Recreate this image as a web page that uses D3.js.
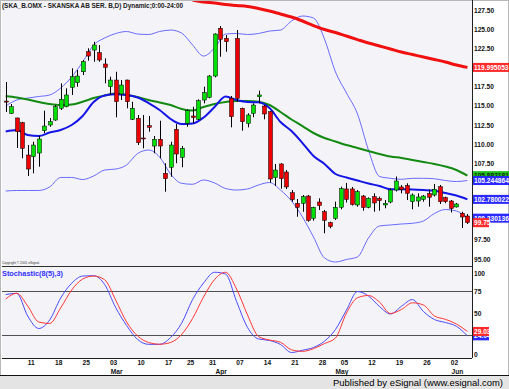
<!DOCTYPE html>
<html>
<head>
<meta charset="utf-8">
<script src="https://cdn.jsdelivr.net/npm/d3@7"></script>
<style>
  body { margin: 0; background: #fff; }
  svg text { font-family: "Liberation Sans", Arial, sans-serif; }
</style>
</head>
<body>
<svg id="chart"></svg>
<script>
// daily candles, one per trading day (index 0..84)
const opens  = [115.60,114.01,113.40,112.78,108.57,108.35,108.83,111.74,112.48,113.13,114.66,114.87,117.40,118.00,119.43,122.04,122.26,121.91,120.44,117.48,118.35,116.53,118.35,113.23,113.36,110.79,112.39,109.74,110.62,106.18,106.97,111.92,108.27,112.70,113.66,113.23,115.74,116.10,118.87,125.10,123.79,115.97,123.79,114.66,112.70,114.01,116.17,114.96,114.22,105.64,107.40,106.35,103.65,102.27,102.27,103.22,100.31,102.44,101.17,99.74,100.31,101.75,104.14,104.14,102.05,103.22,101.75,103.13,102.92,102.05,102.44,104.00,104.40,104.59,102.48,102.57,102.79,103.55,103.35,104.43,103.03,102.57,101.79,100.97,100.61];
const highs  = [118.09,115.22,113.45,112.90,109.87,110.30,111.05,114.35,113.40,115.09,117.92,117.27,119.88,119.66,120.96,122.49,123.35,122.92,121.18,118.78,119.43,118.35,118.40,115.52,113.79,113.79,113.66,111.05,113.04,107.49,110.30,112.61,109.74,114.53,114.87,115.83,117.48,119.00,124.44,125.40,124.22,116.27,124.87,114.75,114.01,115.31,116.96,115.09,114.30,107.40,107.49,106.61,104.00,102.83,103.35,103.35,101.83,102.92,101.40,99.87,102.48,104.43,104.92,104.40,104.00,103.35,103.05,103.57,103.13,102.70,104.23,105.77,104.66,104.88,103.55,103.57,103.35,104.07,104.79,104.66,103.13,102.70,102.31,101.17,100.87];
const lows   = [114.18,113.92,109.48,108.14,105.83,106.18,107.04,111.40,112.26,113.04,114.44,114.79,116.40,117.48,119.00,120.87,120.74,120.74,117.92,116.40,113.49,115.74,114.66,113.13,109.87,109.44,111.61,108.79,108.14,103.78,105.74,107.49,106.97,112.26,112.70,113.13,115.31,115.97,118.70,121.39,122.04,112.18,115.52,111.74,112.18,113.49,115.31,113.23,104.96,104.53,104.17,104.14,102.48,100.52,101.17,99.87,100.00,101.40,98.36,99.01,100.09,101.49,102.37,101.98,101.83,101.30,101.62,101.17,101.30,101.62,102.27,103.81,103.57,102.70,101.49,101.83,102.48,101.83,103.16,102.18,102.27,101.07,101.72,99.05,99.57];
const closes = [115.52,114.87,111.61,109.44,106.74,109.87,110.66,112.35,112.91,114.87,115.83,116.40,118.78,118.87,120.74,121.48,122.92,120.96,120.01,118.35,115.52,117.70,115.52,114.66,110.17,110.71,112.18,110.62,109.74,105.48,109.87,108.70,109.44,114.35,113.46,115.65,116.70,118.87,124.35,123.66,123.35,113.57,115.97,112.91,113.79,115.09,116.40,113.92,105.44,106.61,105.48,104.40,102.74,101.75,103.13,100.03,101.75,101.98,100.05,99.24,101.75,104.17,102.77,102.11,103.78,101.72,102.92,102.31,102.61,102.27,104.00,105.18,104.07,103.57,103.35,103.09,103.22,103.05,104.10,102.48,102.48,101.59,102.18,100.48,99.74];

// indicator lines, read every 2nd trading day (index 0,2,...,84)
const upperBand = [114.96,115.74,116.00,116.20,116.40,117.31,118.74,120.70,122.92,123.83,124.42,124.68,124.35,124.29,124.68,124.87,124.48,122.92,121.48,122.53,124.35,124.42,124.29,124.42,124.74,124.87,126.05,126.70,126.44,123.70,119.40,116.66,113.92,109.22,105.77,105.53,105.40,105.53,105.53,105.47,105.24,105.11,105.24];
const lowerBand = [103.87,103.94,103.94,103.94,104.40,105.64,105.64,105.37,105.83,106.61,106.74,107.27,108.77,109.22,108.31,106.09,104.88,104.75,105.31,104.92,104.20,104.00,104.14,104.66,104.98,104.00,102.57,100.48,97.87,95.14,94.61,94.94,95.27,97.74,99.31,99.44,99.57,99.66,99.96,100.94,101.46,101.27,100.33];
const blueMA    = [111.63,111.83,111.18,111.05,111.50,111.83,112.48,113.66,115.48,116.33,116.49,116.40,116.07,115.35,114.44,113.27,112.61,112.68,113.46,114.83,116.20,115.74,115.48,115.44,114.70,112.87,111.70,110.13,108.44,107.40,106.09,105.64,105.24,104.85,104.53,104.10,104.10,104.07,104.00,103.91,103.61,103.29,102.78];
const greenMA   = [116.27,116.07,115.81,115.48,115.22,115.09,115.16,115.52,116.00,116.33,116.59,116.40,116.13,115.74,115.42,115.09,114.57,114.37,114.83,115.22,115.48,115.61,115.61,115.52,115.09,114.18,113.20,112.35,111.44,110.79,110.33,109.87,109.48,109.09,108.70,108.37,108.18,107.92,107.66,107.40,107.07,106.61,105.88];
// red long average only visible from index 34 on (every 2nd day)
const redMA     = [128.79,128.53,128.40,128.20,128.07,127.94,127.68,127.35,126.96,126.57,126.05,125.46,124.94,124.55,124.09,123.63,123.18,122.79,122.40,122.00,121.68,121.35,121.03,120.70,120.31,119.995];

const stochK = [71.0,72.4,46.6,32.4,42.0,67.0,83.8,92.0,92.4,82.4,56.3,35.8,19.9,14.4,14.4,22.2,38.3,65.3,84.1,96.3,94.3,63.1,33.5,20.5,18.8,14.2,5.1,7.7,10.8,18.0,31.3,53.4,74.4,69.3,57.4,48.9,57.6,65.3,51.7,42.6,39.2,34.9,24.04];
const stochD = [65.9,72.4,58.0,39.8,38.1,55.7,76.1,88.6,92.0,87.8,64.8,39.8,23.9,16.5,14.5,16.5,25.6,43.8,68.2,88.1,96.3,77.3,47.7,23.3,19.3,16.7,8.2,6.4,9.5,15.3,21.6,50.0,67.3,69.9,62.5,49.4,54.0,61.6,59.1,46.6,42.8,37.5,29.03];

// tick labels that stay visible (the others sit under the value tags)
const priceTicks = [95,97.5,107.5,110,112.5,115,117.5,122.5,125,127.5];
const stochTicks = [0,50,75,100];
const stochLevels = [75,25];
const dayTickIdx = [5,10,15,20,25,30,34,38,43,48,53,58,62,67,72,77,82];
const dayTickLabels = ["11","18","25","03","10","17","25","31","07","14","21","28","05","12","19","26","02"];
const monthIdx = [20,39,61,82];
const monthLabels = ["Mar","Apr","May","Jun"];

const width = 509, height = 389;
const left = 2, right = 472;
const priceTop = 1, priceBottom = 266;
const stochBottom = 358;

const svg = d3.select("#chart").attr("width", width).attr("height", height);

svg.append("rect").attr("width", width).attr("height", height).attr("fill", "#fff");
svg.append("rect")
    .attr("x", left).attr("y", 0)
    .attr("width", right - left).attr("height", stochBottom)
    .attr("fill", "#f4f3f7");
// outer frame
svg.append("rect")
    .attr("x", 0.5).attr("y", 0.5)
    .attr("width", width - 1).attr("height", 375)
    .attr("fill", "none").attr("stroke", "#b8b8b8");

const x = d3.scaleLinear().domain([0, opens.length - 1]).range([5.7, 467.4]);
const y = d3.scaleLinear().domain([94.09, 128.66]).range([priceBottom, priceTop]);
const ys = d3.scaleLinear().domain([0, 100]).range([357, 269]);

svg.append("clipPath").attr("id", "clipPrice")
  .append("rect").attr("x", left).attr("y", priceTop)
    .attr("width", right - left).attr("height", priceBottom - priceTop);

const everyOther = d3.range(0, opens.length, 2);
const redIdx = d3.range(34, opens.length, 2);

const priceLine = d3.line()
    .x(d => x(d[0]))
    .y(d => y(d[1]))
    .curve(d3.curveMonotoneX);

const plot = svg.append("g").attr("clip-path", "url(#clipPrice)");

// bollinger bands
[upperBand, lowerBand].forEach(band => {
  plot.append("path")
      .attr("d", priceLine(everyOther.map((i, k) => [i, band[k]])))
      .attr("fill", "none")
      .attr("stroke", "#6a6aff")
      .attr("stroke-width", 1);
});

plot.append("path")
    .attr("d", priceLine(everyOther.map((i, k) => [i, greenMA[k]])))
    .attr("fill", "none").attr("stroke", "#128a12").attr("stroke-width", 2);

plot.append("path")
    .attr("d", priceLine(everyOther.map((i, k) => [i, blueMA[k]])))
    .attr("fill", "none").attr("stroke", "#1414e6").attr("stroke-width", 2);

plot.append("path")
    .attr("d", priceLine(redIdx.map((i, k) => [i, redMA[k]])))
    .attr("fill", "none").attr("stroke", "#f01010").attr("stroke-width", 3);

// candles
const candles = opens.map((o, i) => ({i, o, h: highs[i], l: lows[i], c: closes[i]}));
const cg = plot.append("g")
  .selectAll("g")
  .data(candles)
  .join("g");

cg.append("line")
    .attr("x1", d => Math.round(x(d.i)) + 0.5)
    .attr("x2", d => Math.round(x(d.i)) + 0.5)
    .attr("y1", d => y(d.h))
    .attr("y2", d => y(d.l))
    .attr("stroke", "#000");

cg.append("rect")
    .attr("x", d => Math.round(x(d.i)) - 1.5)
    .attr("width", 4)
    .attr("y", d => y(Math.max(d.o, d.c)))
    .attr("height", d => Math.max(1, Math.abs(y(d.o) - y(d.c))))
    .attr("fill", d => d.c >= d.o ? "#00e000" : "#ee0000")
    .attr("stroke", "#000")
    .attr("stroke-width", 0.5);

// stochastic panel
stochLevels.forEach(v => {
  svg.append("line")
      .attr("x1", left).attr("x2", right)
      .attr("y1", Math.round(ys(v)) + 0.5).attr("y2", Math.round(ys(v)) + 0.5)
      .attr("stroke", "#505050");
});

const stochLine = d3.line()
    .x(d => x(d[0]))
    .y(d => ys(d[1]))
    .curve(d3.curveMonotoneX);

svg.append("path")
    .attr("d", stochLine(everyOther.map((i, k) => [i, stochK[k]])))
    .attr("fill", "none").attr("stroke", "#4a4aff").attr("stroke-width", 1);
svg.append("path")
    .attr("d", stochLine(everyOther.map((i, k) => [i, stochD[k]])))
    .attr("fill", "none").attr("stroke", "#ff3535").attr("stroke-width", 1);

// separators and axes lines
svg.append("line").attr("x1", left).attr("x2", right)
    .attr("y1", priceBottom + 0.5).attr("y2", priceBottom + 0.5).attr("stroke", "#303030");
svg.append("line").attr("x1", left).attr("x2", right)
    .attr("y1", stochBottom + 0.5).attr("y2", stochBottom + 0.5).attr("stroke", "#202020");
svg.append("line").attr("x1", right + 0.5).attr("x2", right + 0.5)
    .attr("y1", 0).attr("y2", stochBottom).attr("stroke", "#202020");

// right price axis
const priceAxis = svg.append("g")
    .attr("transform", `translate(${right},0)`)
    .call(d3.axisRight(y).tickValues(priceTicks).tickFormat(d3.format(".2f")).tickSize(0).tickPadding(2));
priceAxis.select(".domain").remove();
priceAxis.selectAll("text")
    .attr("font-size", 6.6).attr("font-weight", "bold").attr("fill", "#111")
    .attr("font-family", "Liberation Sans, Arial, sans-serif");

const stochAxis = svg.append("g")
    .attr("transform", `translate(${right},0)`)
    .call(d3.axisRight(ys).tickValues(stochTicks).tickFormat(d3.format("d")).tickSize(0).tickPadding(2));
stochAxis.select(".domain").remove();
stochAxis.selectAll("text")
    .attr("font-size", 6.6).attr("font-weight", "bold").attr("fill", "#111")
    .attr("font-family", "Liberation Sans, Arial, sans-serif")
    .attr("dy", d => d === 100 ? "1.0em" : d === 0 ? "-0.05em" : "0.32em");

// bottom date axis
const dateAxis = svg.append("g")
    .attr("transform", `translate(-2.5,${stochBottom})`)
    .call(d3.axisBottom(x).tickValues(dayTickIdx).tickFormat((d, k) => dayTickLabels[k]).tickSize(0).tickPadding(2));
dateAxis.select(".domain").remove();
dateAxis.selectAll("text")
    .attr("font-size", 6.6).attr("font-weight", "bold").attr("fill", "#111")
    .attr("font-family", "Liberation Sans, Arial, sans-serif");

svg.append("g")
  .selectAll("text")
  .data(monthIdx)
  .join("text")
    .attr("x", d => x(d) + 1)
    .attr("y", 373.5)
    .attr("text-anchor", "middle")
    .attr("font-size", 6.6).attr("font-weight", "bold").attr("fill", "#111")
    .text((d, k) => monthLabels[k]);

// last value tags on the right (they overlap each other, as in the source chart)
function tag(value, scale, text, bg, fg, w) {
  const yy = scale(value);
  svg.append("rect")
      .attr("x", right + 1).attr("y", yy - 4.5)
      .attr("width", w).attr("height", 9)
      .attr("fill", bg);
  svg.append("text")
      .attr("x", right + 2).attr("y", yy + 2.4)
      .attr("font-size", 6.6).attr("font-weight", "bold").attr("fill", fg)
      .text(text);
}
tag(redMA[redMA.length - 1], y, "119.995053", "#ff2a2a", "#fff", 36);
tag(greenMA[greenMA.length - 1], y, "105.882181", "#20c020", "#0c300c", 36);
tag(upperBand[upperBand.length - 1], y, "105.244864", "#2a2aff", "#fff", 36);
tag(blueMA[blueMA.length - 1], y, "102.780022", "#2a2aff", "#fff", 36);
tag(lowerBand[lowerBand.length - 1], y, "100.330136", "#2a2aff", "#fff", 36);
tag(closes[closes.length - 1], y, "99.75", "#ff2a2a", "#fff", 16);
tag(stochK[stochK.length - 1], ys, "24.04", "#2a2aff", "#fff", 16);
tag(stochD[stochD.length - 1], ys, "29.03", "#ff2a2a", "#fff", 16);

// titles
svg.append("text")
    .attr("x", 2).attr("y", 8)
    .attr("font-size", 7).attr("font-weight", "bold").attr("fill", "#202020")
    .attr("textLength", 181).attr("lengthAdjust", "spacingAndGlyphs")
    .text("(SKA_B.OMX - SKANSKA AB SER. B,D) Dynamic;0:00-24:00");

svg.append("text")
    .attr("x", 2).attr("y", 264)
    .attr("font-size", 4).attr("fill", "#333")
    .attr("textLength", 38).attr("lengthAdjust", "spacingAndGlyphs")
    .text("Copyright © 2001 eSignal.");

svg.append("text")
    .attr("x", 2).attr("y", 275.5)
    .attr("font-size", 7).attr("font-weight", "bold").attr("fill", "#3030ff")
    .attr("textLength", 61).attr("lengthAdjust", "spacingAndGlyphs")
    .text("Stochastic(8(5),3)");

// footer
svg.append("line").attr("x1", 0).attr("x2", width)
    .attr("y1", 375.5).attr("y2", 375.5).attr("stroke", "#111");
svg.append("rect").attr("x", 0).attr("y", 376)
    .attr("width", width).attr("height", height - 376).attr("fill", "#e4e4e4");
svg.append("text")
    .attr("x", 503).attr("y", 385.5)
    .attr("text-anchor", "end")
    .attr("font-size", 9.5).attr("fill", "#000")
    .attr("textLength", 170).attr("lengthAdjust", "spacingAndGlyphs")
    .text("Published by eSignal (www.esignal.com)");
</script>
</body>
</html>
